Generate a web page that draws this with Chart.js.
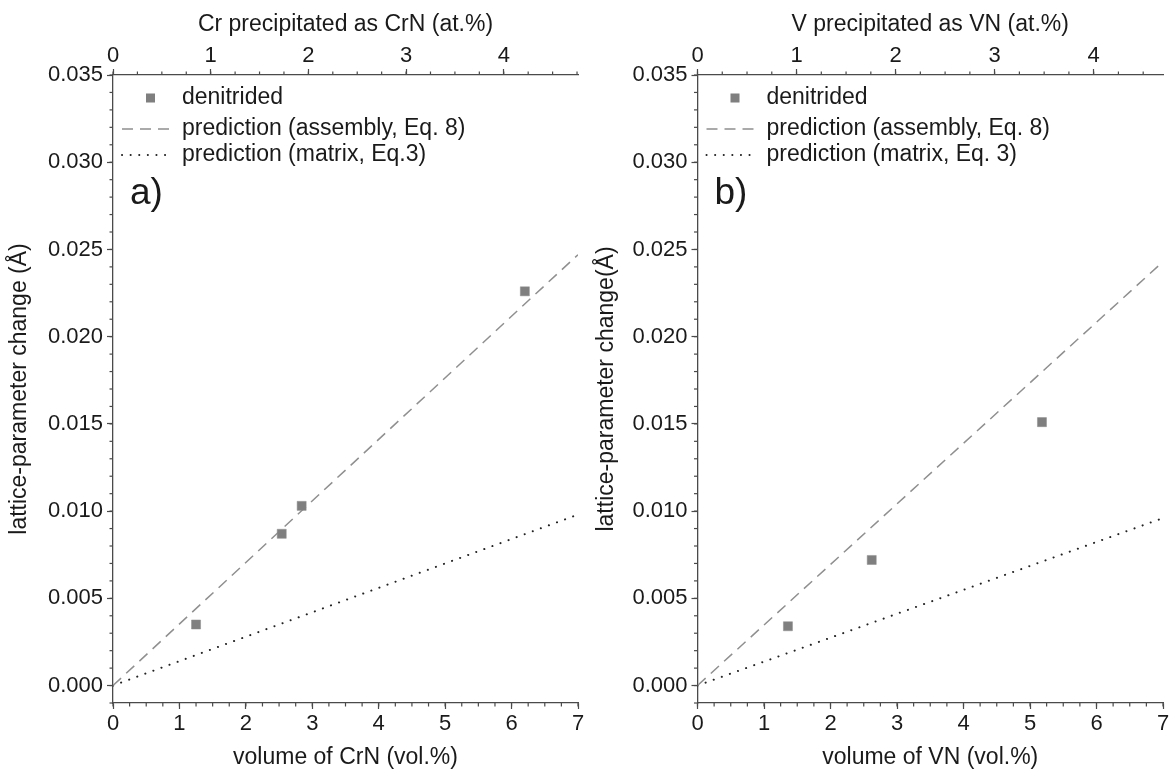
<!DOCTYPE html>
<html>
<head>
<meta charset="utf-8">
<script src="https://cdn.jsdelivr.net/npm/chart.js@4"></script>
<style>
  body { margin: 0; background: #fff; }
  #wrap { position: relative; width: 1175px; height: 776px; }
  canvas { position: absolute; top: 0; }
  #chartA { left: 0; }
  #chartB { left: 590px; }
</style>
</head>
<body>
<div id="wrap">
  <canvas id="chartA" width="590" height="776"></canvas>
  <canvas id="chartB" width="585" height="776"></canvas>
</div>
<script>
// panel a) CrN
const crnVolume = [1.25, 2.54, 2.84, 6.2];
const crnChange = [0.0035, 0.0087, 0.0103, 0.0226];
const crnLineX = [0, 7];
const crnAssembly = [0, 0.0247];
const crnMatrix = [0, 0.0098];
const crnAtMax = 4.76;

// panel b) VN
const vnVolume = [1.36, 2.62, 5.18];
const vnChange = [0.0034, 0.0072, 0.0151];
const vnLineX = [0, 7];
const vnAssembly = [0, 0.0243];
const vnMatrix = [0, 0.0096];
const vnAtMax = 4.70;

const volTicks = [0, 1, 2, 3, 4, 5, 6, 7];
const atTicks = [0, 1, 2, 3, 4];
const changeTicks = [0.000, 0.005, 0.010, 0.015, 0.020, 0.025, 0.030, 0.035];

const FONT = '"Liberation Sans", Arial, sans-serif';
const AXIS = '#4a4a4a';
const TEXT = '#1a1a1a';

function pairs(xs, ys) {
    return xs.map((x, i) => ({x: x, y: ys[i]}));
}

function keepTicks(list) {
    return function(axis) {
        axis.ticks = list.map(v => ({value: v}));
    };
}

// short minor ticks between the major ones
const minorTicks = {
    id: 'minorTicks',
    afterDraw(chart) {
        const ctx = chart.ctx;
        ctx.save();
        ctx.strokeStyle = AXIS;
        ctx.lineWidth = 1.2;
        Object.values(chart.scales).forEach(scale => {
            const step = scale.options.minorStep;
            if (!step) return;
            const n = Math.round((scale.max - scale.min) / step);
            for (let i = 0; i <= n + 1; i++) {
                const v = Math.ceil(scale.min / step - 1e-6) * step + i * step;
                if (v > scale.max + 1e-9) break;
                const p = scale.getPixelForValue(v);
                ctx.beginPath();
                if (scale.position === 'left') {
                    ctx.moveTo(scale.right, p); ctx.lineTo(scale.right - 3.5, p);
                } else if (scale.position === 'bottom') {
                    ctx.moveTo(p, scale.top); ctx.lineTo(p, scale.top + 3.5);
                } else {
                    ctx.moveTo(p, scale.bottom); ctx.lineTo(p, scale.bottom - 3.5);
                }
                ctx.stroke();
            }
        });
        ctx.restore();
    }
};

// legend and panel letter inside the plot area
const insideLegend = {
    id: 'insideLegend',
    afterDraw(chart, args, opts) {
        const ctx = chart.ctx;
        const a = chart.chartArea;
        const ds = chart.data.datasets;
        ctx.save();
        ctx.font = '23px ' + FONT;
        ctx.fillStyle = TEXT;
        ctx.textBaseline = 'middle';
        const tx = a.left + 69;
        const rows = [a.top + 23, a.top + 54, a.top + 80];
        ds.forEach((d, i) => {
            const y = rows[i];
            if (d.showLine) {
                ctx.save();
                ctx.strokeStyle = d.borderColor;
                ctx.lineWidth = d.borderWidth;
                ctx.lineCap = d.borderCapStyle || 'butt';
                ctx.setLineDash(d.borderDash || []);
                ctx.beginPath();
                ctx.moveTo(a.left + 9, y);
                ctx.lineTo(a.left + 60, y);
                ctx.stroke();
                ctx.restore();
            } else {
                ctx.fillStyle = d.backgroundColor;
                ctx.fillRect(a.left + 33, y - 4.5, 9, 9);
                ctx.fillStyle = TEXT;
            }
            ctx.fillText(d.label, tx, y);
        });
        ctx.font = '37px ' + FONT;
        ctx.fillText(opts.letter, a.left + 17, a.top + 119);
        ctx.restore();
    }
};

function makePanel(id, p) {
    const ctx = document.getElementById(id).getContext('2d');
    return new Chart(ctx, {
        type: 'scatter',
        data: {
            datasets: [{
                label: 'denitrided',
                data: pairs(p.vol, p.change),
                pointStyle: 'rect',
                pointRadius: 6.4,
                backgroundColor: '#7f7f7f',
                borderColor: '#8c8c8c',
                borderWidth: 0.5,
                showLine: false
            }, {
                label: 'prediction (assembly, Eq. 8)',
                data: pairs(p.lineX, p.assembly),
                showLine: true,
                pointRadius: 0,
                borderColor: '#8f8f8f',
                borderWidth: 1.5,
                borderDash: [11, 7]
            }, {
                label: p.matrixLabel,
                data: pairs(p.lineX, p.matrix),
                showLine: true,
                pointRadius: 0,
                borderColor: '#222',
                borderWidth: 2,
                borderCapStyle: 'round',
                borderDash: [0.1, 8.5]
            }]
        },
        options: {
            responsive: false,
            animation: false,
            layout: { padding: { left: 0, right: p.padRight, top: 0, bottom: 0 } },
            plugins: {
                legend: { display: false },
                tooltip: { enabled: false },
                insideLegend: { letter: p.letter }
            },
            scales: {
                x: {
                    type: 'linear',
                    position: 'bottom',
                    min: 0, max: 7,
                    minorStep: 0.25,
                    afterBuildTicks: keepTicks(volTicks),
                    afterFit: s => { s.height = 73; },
                    grid: { drawOnChartArea: false, tickLength: 6, tickColor: AXIS, tickWidth: 1.2 },
                    border: { color: AXIS, width: 1.3 },
                    ticks: { font: { family: FONT, size: 22 }, color: TEXT, padding: 2, maxRotation: 0 },
                    title: { display: true, text: p.xTitle, font: { family: FONT, size: 23 }, color: TEXT, padding: { top: 0, bottom: 5 } }
                },
                x2: {
                    type: 'linear',
                    position: 'top',
                    min: 0, max: p.atMax,
                    minorStep: 0.25,
                    afterBuildTicks: keepTicks(atTicks),
                    afterFit: s => { s.height = 75; },
                    grid: { drawOnChartArea: false, tickLength: 6, tickColor: AXIS, tickWidth: 1.2 },
                    border: { color: AXIS, width: 1.3 },
                    ticks: { font: { family: FONT, size: 22 }, color: TEXT, padding: 0, maxRotation: 0 },
                    title: { display: true, text: p.topTitle, font: { family: FONT, size: 23 }, color: TEXT, padding: { top: 11, bottom: 0 } }
                },
                y: {
                    type: 'linear',
                    position: 'left',
                    min: -0.001, max: 0.035,
                    minorStep: 0.001,
                    afterBuildTicks: keepTicks(changeTicks),
                    afterFit: s => { s.width = p.yWidth; },
                    grid: { drawOnChartArea: false, tickLength: 6, tickColor: AXIS, tickWidth: 1.2 },
                    border: { color: AXIS, width: 1.3 },
                    ticks: {
                        font: { family: FONT, size: 22 }, color: TEXT, padding: 4,
                        callback: v => v.toFixed(3)
                    },
                    title: { display: true, text: p.yTitle, font: { family: FONT, size: 23 }, color: TEXT, padding: { top: p.yTitlePad, bottom: 0 } }
                }
            }
        },
        plugins: [minorTicks, insideLegend]
    });
}

makePanel('chartA', {
    vol: crnVolume, change: crnChange,
    lineX: crnLineX, assembly: crnAssembly, matrix: crnMatrix,
    atMax: crnAtMax,
    matrixLabel: 'prediction (matrix, Eq.3)',
    letter: 'a)',
    xTitle: 'volume of CrN (vol.%)',
    topTitle: 'Cr precipitated as CrN (at.%)',
    yTitle: 'lattice-parameter change (Å)',
    yWidth: 113, padRight: 12, yTitlePad: 6
});

makePanel('chartB', {
    vol: vnVolume, change: vnChange,
    lineX: vnLineX, assembly: vnAssembly, matrix: vnMatrix,
    atMax: vnAtMax,
    matrixLabel: 'prediction (matrix, Eq. 3)',
    letter: 'b)',
    xTitle: 'volume of VN (vol.%)',
    topTitle: 'V precipitated as VN (at.%)',
    yTitle: 'lattice-parameter change(Å)',
    yWidth: 107.5, padRight: 12, yTitlePad: 3
});
</script>
</body>
</html>
